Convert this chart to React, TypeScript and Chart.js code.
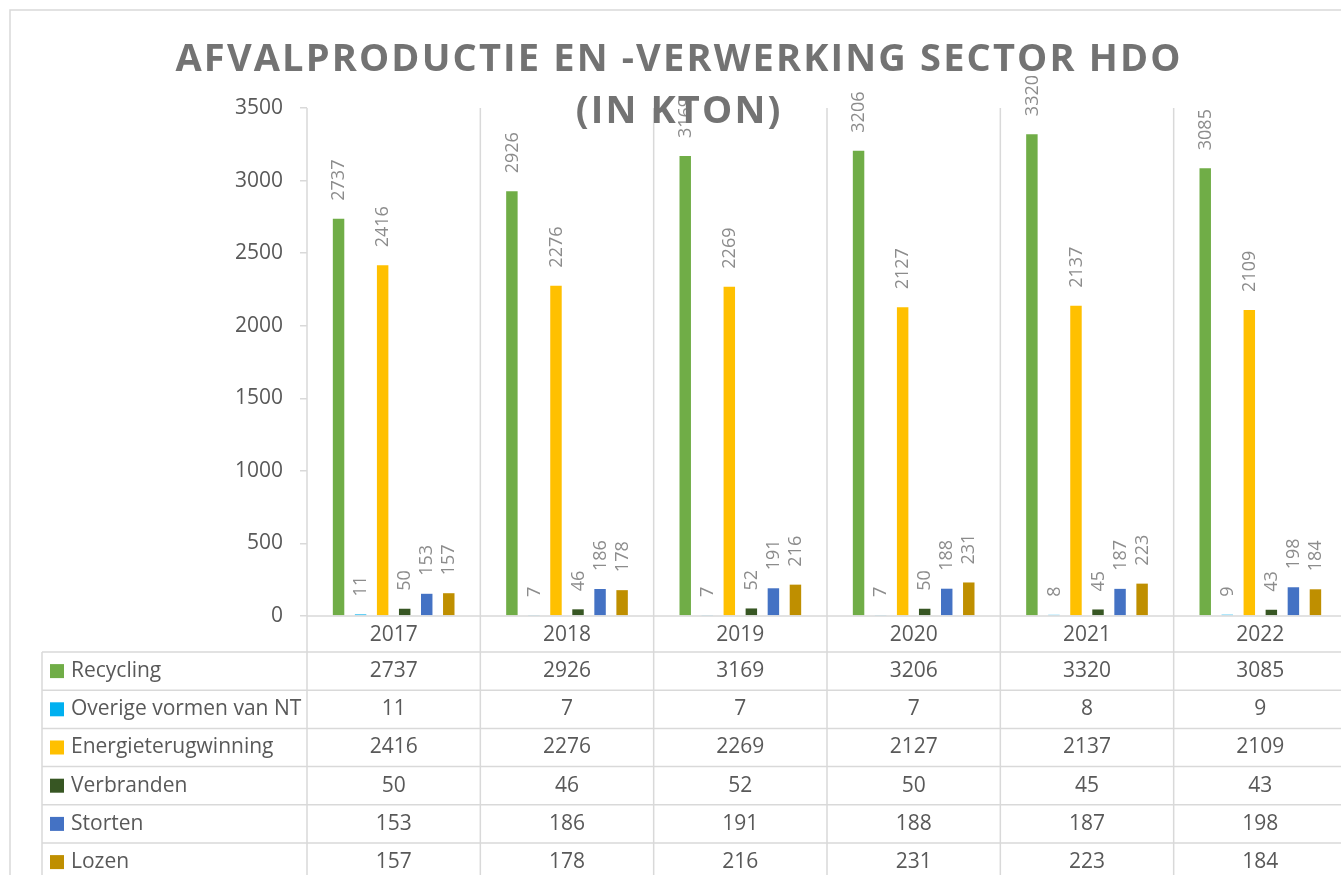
import React, { useEffect, useRef } from "react";
import { Chart, registerables } from "chart.js";

Chart.register(...registerables);

const years = ["2017", "2018", "2019", "2020", "2021", "2022"];
const recycling = [2737, 2926, 3169, 3206, 3320, 3085];
const overige = [11, 7, 7, 7, 8, 9];
const energie = [2416, 2276, 2269, 2127, 2137, 2109];
const verbranden = [50, 46, 52, 50, 45, 43];
const storten = [153, 186, 191, 188, 187, 198];
const lozen = [157, 178, 216, 231, 223, 184];
const seriesNames = [
  "Recycling",
  "Overige vormen van NT",
  "Energieterugwinning",
  "Verbranden",
  "Storten",
  "Lozen",
];
const seriesColors = ["#70AD47", "#00B0F0", "#FFC000", "#375623", "#4472C4", "#BF8F00"];
const yMin = 0;
const yMax = 3500;
const yStep = 500;
const titleLines = ["AFVALPRODUCTIE EN -VERWERKING SECTOR HDO", "(IN KTON)"];

const FONT = '"Open Sans", "DejaVu Sans", sans-serif';
const LINE = "#d9d9d9";
const TEXT = "#595959";

const CANVAS_W = 1360;
const CANVAS_H = 900;
const HEADER_H = 36;
const ROW_H = 38.2;
const TABLE_LEFT = 42;
const FRAME = 10;

const excelPlugin = {
  id: "excelPlugin",
  afterDatasetsDraw(chart: any) {
    const ctx = chart.ctx;
    ctx.save();
    ctx.fillStyle = "#8c8c8c";
    ctx.font = `18px ${FONT}`;
    ctx.textAlign = "left";
    ctx.textBaseline = "middle";
    chart.data.datasets.forEach((ds: any, di: number) => {
      const meta = chart.getDatasetMeta(di);
      meta.data.forEach((bar: any, i: number) => {
        ctx.save();
        ctx.translate(bar.x + 0.5, bar.y - 18);
        ctx.rotate(-Math.PI / 2);
        ctx.fillText(String(ds.data[i]), 0, 0);
        ctx.restore();
      });
    });
    ctx.restore();
  },
  afterDraw(chart: any) {
    const ctx = chart.ctx;
    const area = chart.chartArea;
    const xs = chart.scales.x;
    const n = years.length;
    const colW = (xs.right - xs.left) / n;
    const bottom = chart.height;
    ctx.save();

    // outer frame
    ctx.strokeStyle = LINE;
    ctx.lineWidth = 1.5;
    ctx.beginPath();
    ctx.moveTo(FRAME, bottom);
    ctx.lineTo(FRAME, FRAME);
    ctx.lineTo(chart.width, FRAME);
    ctx.stroke();

    // table lines
    ctx.strokeStyle = LINE;
    ctx.lineWidth = 1.5;
    ctx.beginPath();
    for (let i = 0; i <= n; i++) {
      const x = xs.left + i * colW;
      ctx.moveTo(x, area.top);
      ctx.lineTo(x, bottom);
    }
    ctx.moveTo(xs.left, area.bottom);
    ctx.lineTo(xs.right, area.bottom);
    const firstRow = area.bottom + HEADER_H;
    for (let r = 0; r <= seriesNames.length; r++) {
      const y = firstRow + r * ROW_H;
      ctx.moveTo(TABLE_LEFT, y);
      ctx.lineTo(xs.right, y);
    }
    ctx.moveTo(TABLE_LEFT, firstRow);
    ctx.lineTo(TABLE_LEFT, bottom);
    ctx.stroke();

    // header years
    ctx.fillStyle = TEXT;
    ctx.font = `21px ${FONT}`;
    ctx.textAlign = "center";
    ctx.textBaseline = "middle";
    years.forEach((yr, i) => {
      ctx.fillText(yr, xs.getPixelForValue(i), area.bottom + HEADER_H / 2 + 1);
    });

    // rows
    chart.data.datasets.forEach((ds: any, r: number) => {
      const cy = firstRow + r * ROW_H + ROW_H / 2;
      ctx.fillStyle = seriesColors[r];
      ctx.fillRect(TABLE_LEFT + 8, cy - 7, 14, 14);
      ctx.fillStyle = TEXT;
      ctx.textAlign = "left";
      ctx.fillText(seriesNames[r], TABLE_LEFT + 29, cy);
      ctx.textAlign = "center";
      ds.data.forEach((v: number, i: number) => {
        ctx.fillText(String(v), xs.getPixelForValue(i), cy);
      });
    });

    // title
    ctx.fillStyle = "#737373";
    ctx.font = `bold 38px ${FONT}`;
    ctx.textAlign = "left";
    ctx.textBaseline = "alphabetic";
    const line1 = titleLines[0];
    (ctx as any).letterSpacing = "0px";
    const w0 = ctx.measureText(line1).width;
    const targetW = 1005;
    const sp = (targetW - w0) / (line1.length - 1);
    const cx = 678;
    const baselines = [71, 123];
    titleLines.forEach((t, i) => {
      (ctx as any).letterSpacing = "0px";
      const w = ctx.measureText(t).width + sp * (t.length - 1);
      (ctx as any).letterSpacing = `${sp}px`;
      ctx.fillText(t, cx - w / 2, baselines[i]);
    });
    ctx.restore();
  },
};

export default function App() {
  const ref = useRef<HTMLCanvasElement | null>(null);
  useEffect(() => {
    if (!ref.current) return;
    const seriesData = [recycling, overige, energie, verbranden, storten, lozen];
    const yTicks: number[] = [];
    for (let v = yMin; v <= yMax; v += yStep) yTicks.push(v);
    const chart = new Chart(ref.current, {
      type: "bar",
      data: {
        labels: years,
        datasets: seriesData.map((d, i) => ({
          label: seriesNames[i],
          data: d,
          backgroundColor: seriesColors[i],
          borderWidth: 0,
          categoryPercentage: 0.763,
          barPercentage: 0.52,
        })),
      },
      options: {
        animation: false,
        responsive: false,
        devicePixelRatio: 1,
        layout: { padding: { top: 108, left: 0, right: CANVAS_W - 1347, bottom: 0 } },
        plugins: {
          legend: { display: false },
          title: { display: false },
          tooltip: { enabled: false },
        },
        scales: {
          x: {
            ticks: { display: false },
            grid: { display: false },
            border: { display: false },
            afterFit: (scale: any) => {
              scale.height = CANVAS_H - 616;
            },
          },
          y: {
            min: yMin,
            max: yMax,
            afterBuildTicks: (scale: any) => {
              scale.ticks = yTicks.map((v) => ({ value: v }));
            },
            ticks: {
              stepSize: yStep,
              padding: 17,
              color: TEXT,
              font: { family: FONT, size: 21 },
              callback: (v: any) => String(v),
            },
            grid: {
              drawOnChartArea: false,
              drawTicks: true,
              tickLength: 7,
              color: LINE,
              lineWidth: 1.5,
            },
            border: { display: false },
            afterFit: (scale: any) => {
              scale.width = 307;
            },
          },
        },
      },
      plugins: [excelPlugin],
    });
    return () => chart.destroy();
  }, []);
  return (
    <div
      style={{
        position: "fixed",
        left: 0,
        top: 0,
        width: 1341,
        height: 875,
        overflow: "hidden",
        background: "#fff",
      }}
    >
      <canvas
        ref={ref}
        width={CANVAS_W}
        height={CANVAS_H}
        style={{ display: "block", width: CANVAS_W, height: CANVAS_H }}
      />
    </div>
  );
}
